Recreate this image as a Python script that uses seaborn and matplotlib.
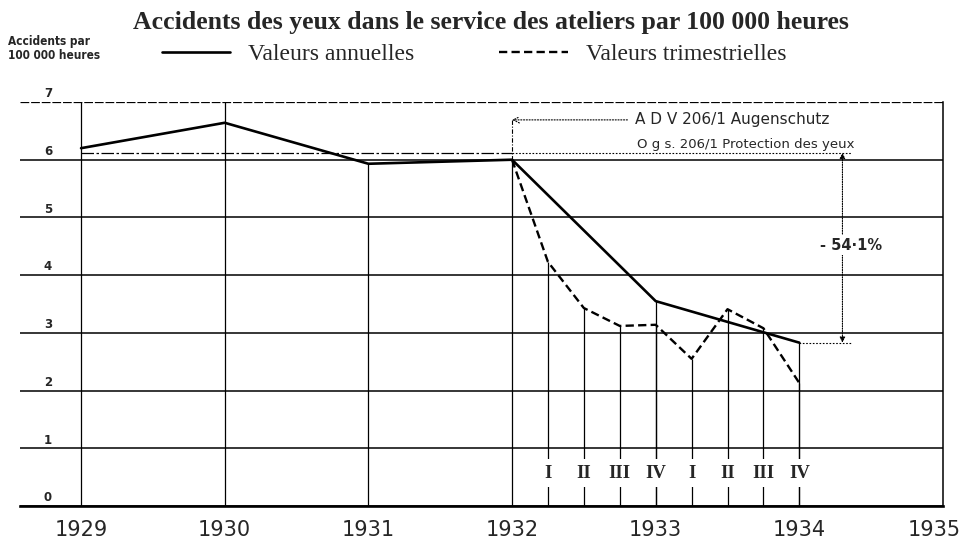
import pandas as pd
import matplotlib.pyplot as plt
import matplotlib.transforms as mtransforms
import seaborn as sns

# annual values (plotted at year marks)
annee = [1929, 1930, 1931, 1932, 1933, 1934]
valeurs_annuelles = [6.20, 6.64, 5.93, 6.00, 3.55, 2.83]

# quarterly values, from 1932 to 1934
trimestre_x = [1932.0, 1932.25, 1932.5, 1932.75, 1933.0, 1933.25, 1933.5, 1933.75, 1934.0]
valeurs_trimestrielles = [6.00, 4.23, 3.43, 3.12, 3.14, 2.55, 3.41, 3.08, 2.13]
trimestre_labels = ['I', 'II', 'III', 'IV', 'I', 'II', 'III', 'IV']

x_ticks = [1929, 1930, 1931, 1932, 1933, 1934, 1935]
y_ticks = [0, 1, 2, 3, 4, 5, 6, 7]
niveau_ref = 6.12
niveau_fin = 2.83
reduction = '- 54·1%'

df_a = pd.DataFrame({'annee': annee, 'valeur': valeurs_annuelles})
df_t = pd.DataFrame({'x': trimestre_x, 'valeur': valeurs_trimestrielles})

sns.set_style('white')
plt.rcParams['font.family'] = ['DejaVu Sans']

fig = plt.figure(figsize=(9.63, 5.38), dpi=100)
ax = fig.add_axes([20 / 963, 1 - 506 / 538, 923 / 963, 404 / 538])

sns.lineplot(data=df_a, x='annee', y='valeur', color='black', lw=1.9,
             label='Valeurs annuelles', ax=ax, zorder=4)
sns.lineplot(data=df_t, x='x', y='valeur', color='black', lw=1.7,
             label='Valeurs trimestrielles', ax=ax, zorder=4)
ax.lines[1].set_dashes((3.5, 1.8))

ax.set_xlim(1928.575, 1935)
ax.set_ylim(0, 7)

# horizontal rules
ax.set_yticks(y_ticks)
ax.set_yticklabels([])
ax.grid(axis='y', color='black', lw=1.1)
ax.get_ygridlines()[-1].set_linestyle((0, (7, 1.5)))
ax.get_ygridlines()[-1].set_linewidth(0.9)
ax.tick_params(axis='both', length=0)
for v in y_ticks:
    ax.text(1928.77, v + 0.03, str(v), ha='center', va='bottom',
            fontsize=8.5, fontweight='bold')

ax.set_xticks(x_ticks)
ax.set_xticklabels([str(y) for y in x_ticks], fontsize=15)
ax.tick_params(axis='x', pad=10)
last = ax.get_xticklabels()[-1]
last.set_transform(last.get_transform() + mtransforms.ScaledTranslation(-9 / 100, 0, fig.dpi_scale_trans))
ax.set_xlabel('')
ax.set_ylabel('')

for s in ['left', 'top']:
    ax.spines[s].set_visible(False)
ax.spines['bottom'].set_linewidth(1.9)
ax.spines['right'].set_linewidth(1.1)
ax.spines['bottom'].set_color('black')
ax.spines['right'].set_color('black')

# vertical rules
ax.vlines(annee[:2], 0, 7, color='black', lw=0.9)
ax.vlines(annee[2:], 0, valeurs_annuelles[2:], color='black', lw=0.9)
ax.vlines(trimestre_x[1:], 0, valeurs_trimestrielles[1:], color='black', lw=0.9)
ax.vlines(1932, valeurs_annuelles[3], 6.69, color='black', lw=0.8, ls=(0, (4, 1.5, 1, 1.5)))

# reference level
ax.hlines(niveau_ref, 1929, 1932, color='black', lw=0.9, ls=(0, (10, 2, 2, 2)))
ax.hlines(niveau_ref, 1932, 1934.37, color='black', lw=0.8, ls=(0, (1.5, 1.5)))
ax.hlines(niveau_fin, 1934, 1934.37, color='black', lw=0.8, ls=(0, (1.5, 1.5)))
ax.annotate('', xy=(1934.30, niveau_ref), xytext=(1934.30, niveau_fin),
            arrowprops=dict(arrowstyle='<|-|>', ls=(0, (1, 1.2)), lw=0.8,
                            color='black', mutation_scale=8, shrinkA=0, shrinkB=0))
ax.text(1934.36, 4.52, reduction, ha='center', va='center', fontsize=10.5,
        fontweight='bold', bbox=dict(fc='white', ec='none', pad=2), zorder=5)

# quarter numerals
for xq, lab in zip(trimestre_x[1:], trimestre_labels):
    ax.text(xq, 0.57, lab, ha='center', va='center', fontsize=13.5,
            family='Liberation Serif', fontweight='bold',
            bbox=dict(boxstyle='square,pad=0.3', fc='white', ec='none'), zorder=5)

# notes
ax.annotate('A D V 206/1 Augenschutz', xy=(1932, 6.69), xytext=(1932.855, 6.69),
            ha='left', va='center', fontsize=11,
            arrowprops=dict(arrowstyle='->', ls=(0, (1, 1.5)), lw=0.8, color='black',
                            shrinkA=3, shrinkB=0))
ax.text(1932.87, 6.27, 'O g s. 206/1 Protection des yeux', ha='left', va='center',
        fontsize=9.5)

# legend
h = ax.lines[:2]
ax.legend(handles=h, labels=['Valeurs annuelles', 'Valeurs trimestrielles'],
          loc='center left', bbox_to_anchor=(162 / 963, 1 - 54 / 538),
          bbox_transform=fig.transFigure, ncol=2, frameon=False,
          handlelength=2.9, handletextpad=0.75, columnspacing=3.6,
          borderpad=0, borderaxespad=0,
          prop={'family': 'Liberation Serif', 'size': 17})

fig.text(0.51, 1 - 22 / 538,
         'Accidents des yeux dans le service des ateliers par 100 000 heures',
         ha='center', va='center', fontsize=18.5, fontweight='bold',
         family='Liberation Serif')
fig.text(8 / 963, 1 - 35 / 538, 'Accidents par\n100 000 heures', ha='left', va='top',
         fontsize=8.5, fontweight='bold', family='DejaVu Sans', fontstretch='condensed',
         linespacing=1.1)

fig.savefig('out.png', dpi=100)
